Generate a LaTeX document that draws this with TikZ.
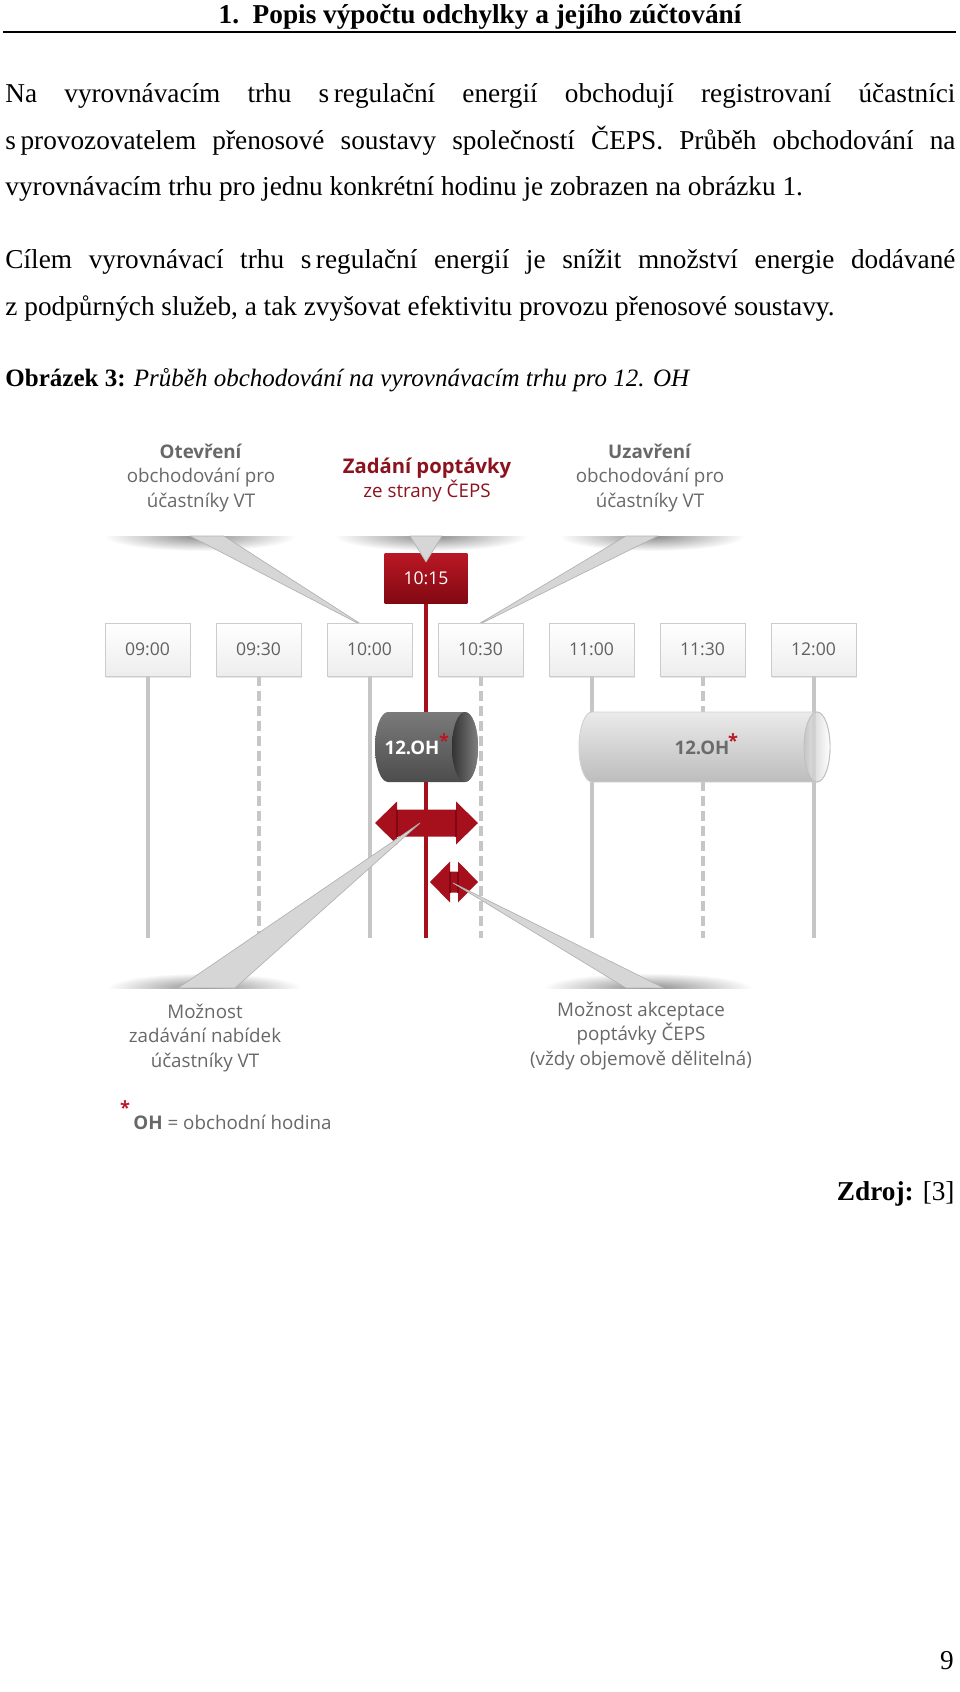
\documentclass[tikz,border=0pt]{standalone}
\usepackage{fontspec}
\setmainfont{Liberation Serif}
\newfontfamily\diagfont{Open Sans}
\usetikzlibrary{shadows}
\tolerance=9999
\hbadness=10000

\definecolor{cepsred}{RGB}{186,24,36}
\definecolor{cepsdark}{RGB}{128,8,18}
\definecolor{cepsline}{RGB}{165,16,28}
\definecolor{cepstext}{RGB}{140,18,30}
\definecolor{labelgray}{RGB}{104,104,104}
\definecolor{linegray}{RGB}{198,198,198}

\begin{document}
\begin{tikzpicture}[x=0.44pt,y=-0.44pt]
\tikzset{para/.style = {text width=418pt, align=justify, inner sep=0pt, font=\fontsize{12}{20.46}\selectfont}}
\tikzset{callout/.style = {align=center, inner sep=0pt, text=labelgray, font=\diagfont\fontsize{8.26}{10.8}\selectfont}}
\tikzset{timebox/.style = {draw=black!20, top color=white, bottom color=black!7, minimum width=37.4pt, minimum height=23.3pt, inner sep=0pt, text=black!62, font=\diagfont\fontsize{7.75}{9}\selectfont, drop shadow={opacity=0.2, shadow xshift=0.5pt, shadow yshift=-0.7pt}}}
\tikzset{redbox/.style = {top color=cepsred, bottom color=cepsdark, minimum width=36.5pt, minimum height=22.4pt, inner sep=0pt, text=white, font=\diagfont\fontsize{7.75}{9}\selectfont}}
\tikzset{hourline/.style = {draw=linegray, line width=1.76pt}}
\tikzset{halfline/.style = {hourline, dash pattern=on 4.4pt off 2.2pt}}
\tikzset{pointer/.style = {fill=black!16, draw=black!30, line width=0.3pt, line join=round}}
\tikzset{star/.style = {anchor=base, inner sep=0pt, text=cepsred, font=\diagfont\bfseries\fontsize{8}{9}\selectfont}}
\useasboundingbox (0,0) rectangle (960,1692);

% page text
\node[anchor=base, inner sep=0pt, font=\bfseries\fontsize{12}{14}\selectfont] (head) at (480,24) {1.\hspace{0.5em}Popis výpočtu odchylky a jejího zúčtování};
\draw[line width=0.9pt] (3,32) -- (956,32);
\node[para, anchor=base west] (p1) at (5,103) {Na vyrovnávacím trhu s\,regulační energií obchodují registrovaní účastníci\linebreak s\,provozovatelem přenosové soustavy společností ČEPS. Průběh obchodování na\linebreak vyrovnávacím trhu pro jednu konkrétní hodinu je zobrazen na obrázku 1.};
\node[para, anchor=base west] (p2) at (5,269) {Cílem vyrovnávací trhu s\,regulační energií je snížit množství energie dodávané\linebreak z podpůrných služeb, a tak zvyšovat efektivitu provozu přenosové soustavy.};
\node[anchor=base west, inner sep=0pt, font=\fontsize{11}{13}\selectfont] (cap) at (5,387) {\textbf{Obrázek 3:} \textit{Průběh obchodování na vyrovnávacím trhu pro 12. OH}};
\node[anchor=base east, inner sep=0pt, font=\fontsize{12}{14}\selectfont] (src) at (955,1200) {\textbf{Zdroj:} [3]};
\node[anchor=base, inner sep=0pt, font=\fontsize{12}{14}\selectfont] (pg) at (947,1669) {9};

% callouts
\node[callout] (open) at (201,478) {\textbf{Otevření}\\obchodování pro\\účastníky VT};
\node[callout, text=cepstext] (order) at (427,480) {{\fontsize{8.9}{10.8}\selectfont\textbf{Zadání poptávky}}\\ze strany ČEPS};
\node[callout] (close) at (650,478) {\textbf{Uzavření}\\obchodování pro\\účastníky VT};
\node[callout] (bids) at (205,1038) {Možnost\\zadávání nabídek\\účastníky VT};
\node[callout] (accept) at (641,1036) {Možnost akceptace\\poptávky ČEPS\\(vždy objemově dělitelná)};

% card shadows
\foreach \sx/\sy/\sr/\se in {200/536/96/552, 431/536/97/552, 652/536/93/552, 204/988/97/972, 648/988/105/972} {
  \begin{scope}
    \clip (\sx-\sr,\sy) rectangle (\sx+\sr,\se);
    \shade[inner color=black!45, outer color=white] (\sx,\sy) ellipse [x radius=\sr, y radius=15];
  \end{scope}
}

% pointers to the time axis
\coordinate (tipo) at (367,628);
\coordinate (tipc) at (472,628);
\path[pointer] (190,536) -- (224,536) -- (tipo) -- cycle;
\path[pointer] (626,536) -- (658,536) -- (tipc) -- cycle;

% time axis
\foreach \t [count=\i] in {09:00,09:30,10:00,10:30,11:00,11:30,12:00} {
  \node[timebox] (t\i) at (36.5+111*\i,649.5) {\t};
  \coordinate (e\i) at (36.5+111*\i,938);
}
\foreach \i in {1,3,5,7} {
  \draw[hourline] (t\i.south) -- (e\i);
}
\foreach \i in {2,4,6} {
  \draw[halfline] (t\i.south) -- (e\i);
}

% demand at 10:15
\node[redbox] (r) at (426,578.5) {10:15};
\coordinate (re) at (426,938);
\draw[cepsline, line width=1.76pt] (r.south) -- (re);
\coordinate (tipm) at (426,562);
\path[pointer] (410,536) -- (442,536) -- (tipm) -- cycle;

% trading hours
\shade[top color=black!52, bottom color=black!70] (388,712) -- (465,712) arc[start angle=-90, end angle=90, x radius=13, y radius=35] -- (388,782) arc[start angle=90, end angle=270, x radius=13, y radius=35] -- cycle;
\shade[left color=black!80, right color=black!50] (465,747) ellipse [x radius=13, y radius=35];
\node[inner sep=0pt, text=white, font=\diagfont\bfseries\fontsize{8.2}{9}\selectfont] (oh1) at (412,748) {12.OH};
\node[star] (s1) at (444,747) {*};
\shade[draw=black!18, line width=0.4pt, top color=black!8, middle color=black!3, bottom color=black!26] (592,712) -- (817,712) arc[start angle=-90, end angle=90, x radius=13, y radius=35] -- (592,782) arc[start angle=90, end angle=270, x radius=13, y radius=35] -- cycle;
\shade[draw=black!25, line width=0.4pt, left color=black!22, right color=white] (817,747) ellipse [x radius=13, y radius=35];
\draw[hourline, opacity=0.5] (e7 |- 0,712) -- (e7 |- 0,782);
\node[inner sep=0pt, text=black!58, font=\diagfont\bfseries\fontsize{8.2}{9}\selectfont] (oh2) at (702,748) {12.OH};
\node[star] (s2) at (733,747) {*};

% offer and acceptance windows
\fill[cepsline] (375,823) -- (397,801.5) -- (397,809.5) -- (456,809.5) -- (456,801.5) -- (478,823) -- (456,844.5) -- (456,836.5) -- (397,836.5) -- (397,844.5) -- cycle;
\fill[cepsline] (430,882) -- (450,861.5) -- (450,871.5) -- (458,871.5) -- (458,861.5) -- (478,882) -- (458,902.5) -- (458,892.5) -- (450,892.5) -- (450,902.5) -- cycle;
\draw[cepsdark, line width=0.8pt] (397,809.5) -- (397,836.5) (456,809.5) -- (456,836.5) (450,871.5) -- (450,892.5) (458,871.5) -- (458,892.5);

% pointers to the windows
\coordinate (tipb) at (420,823);
\coordinate (tipa) at (453,883);
\path[pointer] (178,988) -- (235,988) -- (tipb) -- cycle;
\path[pointer] (626,988) -- (664,988) -- (tipa) -- cycle;

% legend
\node[star] (s3) at (125,1114) {*};
\node[callout, anchor=west] (legend) at (133,1122) {\textbf{OH} = obchodní hodina};
\end{tikzpicture}
\end{document}
